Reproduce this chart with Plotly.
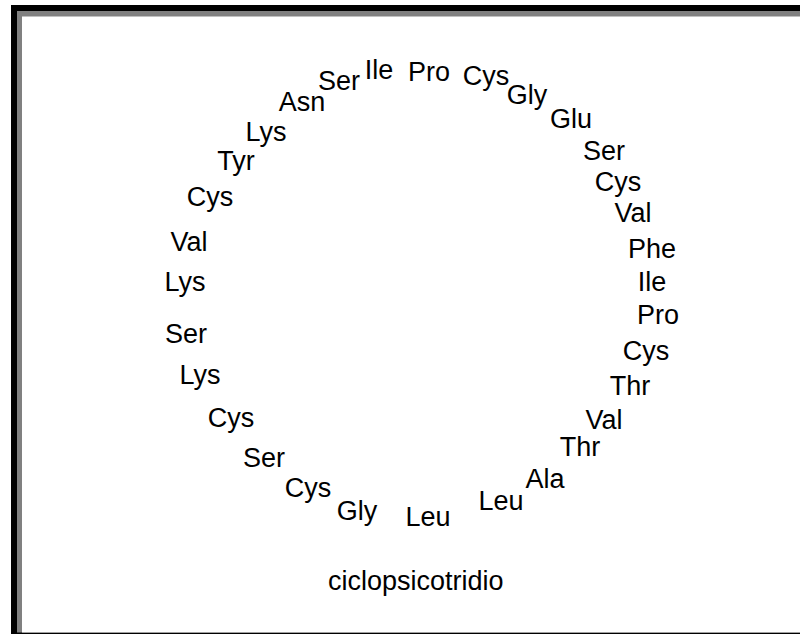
import plotly.graph_objects as go

# residues around the ring (pixel-like coordinates)
residues = ["Ile", "Pro", "Cys", "Gly", "Glu", "Ser", "Cys", "Val", "Phe", "Ile",
            "Pro", "Cys", "Thr", "Val", "Thr", "Ala", "Leu", "Leu", "Gly", "Cys",
            "Ser", "Cys", "Lys", "Ser", "Lys", "Val", "Cys", "Tyr", "Lys", "Asn", "Ser"]
pos_x = [379, 429, 486, 527, 571, 604, 618, 633, 652, 652,
         658, 646, 630, 604, 580, 545, 501, 428, 357, 308,
         264, 231, 200, 186, 185, 189, 210, 236, 266, 302, 339]
pos_y = [72, 74, 78, 97, 121, 153, 184, 215, 251, 284,
         317, 353, 388, 422, 449, 481, 503, 519, 513, 490,
         460, 420, 377, 336, 284, 244, 199, 163, 134, 104, 83]

caption = "ciclopsicotridio"
caption_xy = (416, 581)

W, H = 800, 636
FONT = "Liberation Sans, Arial, sans-serif"

fig = go.Figure()
fig.add_trace(go.Scatter(
    x=pos_x, y=pos_y, mode="text", text=residues,
    textposition="middle center",
    textfont=dict(family=FONT, size=27, color="black"),
    hoverinfo="skip", showlegend=False,
))

fig.add_annotation(x=caption_xy[0], y=caption_xy[1], text=caption, showarrow=False,
                   font=dict(family=FONT, size=27, color="black"))

# frame: black outer band, grey inner band (right edge runs off the image)
fig.add_shape(type="rect", x0=11, x1=W + 10, y0=5, y1=634, line_width=0,
              fillcolor="black", layer="below")
fig.add_shape(type="rect", x0=17, x1=W + 10, y0=11, y1=632.5, line_width=0,
              fillcolor="#808080", layer="below")
fig.add_shape(type="rect", x0=22, x1=W + 10, y0=16.5, y1=632.5, line_width=0,
              fillcolor="white", layer="below")

fig.update_xaxes(range=[0, W], visible=False, fixedrange=True)
fig.update_yaxes(range=[H, 0], visible=False, fixedrange=True)
fig.update_layout(
    width=W, height=H,
    margin=dict(l=0, r=0, t=0, b=0),
    paper_bgcolor="white", plot_bgcolor="white",
)
# drop the browser's default body margin so the figure sits at the page corner
fig.write_html("out.html", config={"displayModeBar": False},
               post_script="document.body.style.margin = '0';")
